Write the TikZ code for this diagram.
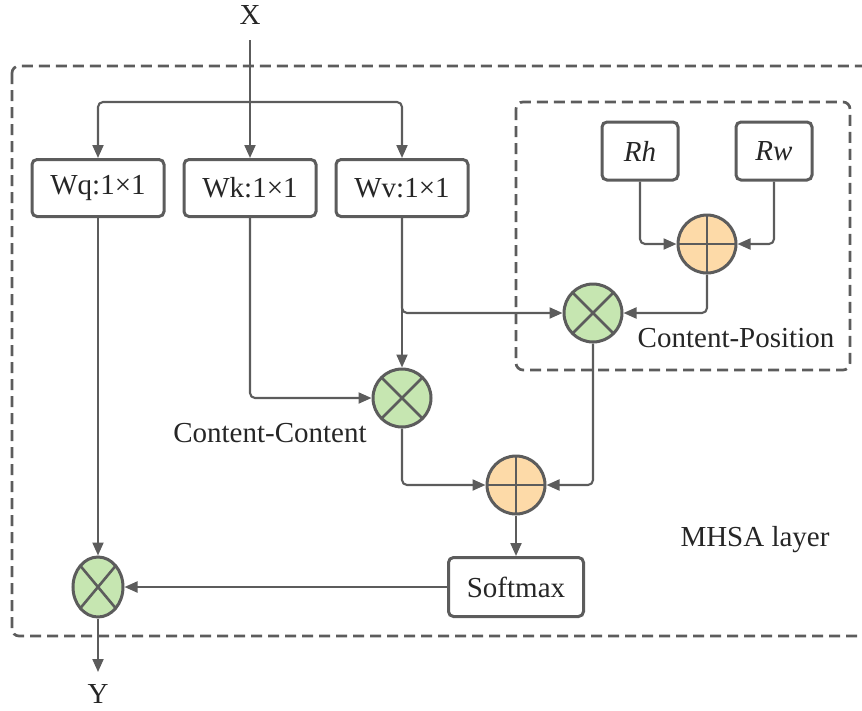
\documentclass[tikz,border=0pt]{standalone}
\usepackage{fontspec}
\setmainfont{Liberation Serif}
\usetikzlibrary{arrows.meta,shapes.geometric}
\definecolor{ln}{HTML}{5C5C5C}
\definecolor{gfill}{HTML}{C6E6B1}
\definecolor{ofill}{HTML}{FDDAA8}
\tikzset{
  box/.style={draw=ln, line width=3pt, rounded corners=5pt, fill=white, minimum width=132pt, minimum height=57pt, inner sep=0pt, font=\fontsize{29}{34}\selectfont, text=black!85},
  rbox/.style={box, minimum width=76pt, minimum height=58pt},
  arr/.style={draw=ln, line width=2.1pt, rounded corners=5pt, -{Triangle[length=13pt,width=11pt]}},
  times/.style={circle, draw=ln, line width=3pt, fill=gfill, minimum size=58pt, inner sep=0pt,
    path picture={\draw[ln, line width=2.6pt] (path picture bounding box.north west) -- (path picture bounding box.south east)
      (path picture bounding box.north east) -- (path picture bounding box.south west);}},
  plus/.style={circle, draw=ln, line width=3pt, fill=ofill, minimum size=58pt, inner sep=0pt,
    path picture={\draw[ln, line width=2.6pt] (path picture bounding box.north) -- (path picture bounding box.south)
      (path picture bounding box.east) -- (path picture bounding box.west);}},
  lbl/.style={font=\fontsize{29}{34}\selectfont, text=black!85, inner sep=0pt},
  dbox/.style={draw=ln, line width=2.7pt, dash pattern=on 11pt off 6pt, rounded corners=7pt}
}
\begin{document}
\begin{tikzpicture}[x=1pt,y=-1pt]
\useasboundingbox (0,0) rectangle (862,710);
% outer and inner dashed frames
\draw[dbox] (12,66) rectangle (880,636);
\draw[dbox] (516,102) rectangle (850,370);
% nodes
\node[lbl] (X) at (250,15) {X};
\coordinate (xs) at (250,40);
\coordinate (j) at (250,102);
\node[box] (Wq) at (98,188) {Wq:1×1};
\node[box] (Wk) at (250,188) {Wk:1×1};
\node[box] (Wv) at (402,188) {Wv:1×1};
\node[rbox] (Rh) at (640,151) {\itshape Rh};
\node[rbox] (Rw) at (774,151) {\itshape Rw};
\node[plus] (pp) at (707,244) {};
\node[times] (cp) at (593,313) {};
\node[times] (cc) at (402,398) {};
\node[plus] (sum) at (516,485) {};
\node[box, minimum width=135pt, minimum height=59pt] (sm) at (516,587) {Softmax};
\node[ellipse, draw=ln, line width=3pt, fill=gfill, minimum width=50pt, minimum height=60pt, inner sep=0pt,
  path picture={\draw[ln, line width=2.6pt] (path picture bounding box.north west) -- (path picture bounding box.south east)
      (path picture bounding box.north east) -- (path picture bounding box.south west);}] (out) at (98,587) {};
\coordinate (ye) at (98,672);
\node[lbl] (Y) at (98,694) {Y};
\node[lbl] (cclbl) at (270,433) {Content-Content};
\node[lbl] (cplbl) at (736,338) {Content-Position};
\node[lbl] (mhsa) at (755,540) {MHSA layer};
% connectors
\draw[arr] (xs) -- (Wk.north);
\draw[arr] (j) -| (Wq.north);
\draw[arr] (j) -| (Wv.north);
\draw[arr] (Rh.south) |- (pp.west);
\draw[arr] (Rw.south) |- (pp.east);
\draw[arr] (pp.south) |- (cp.east);
\draw[arr] (Wv.south) |- (cp.west);
\draw[arr] (Wv.south) -- (cc.north);
\draw[arr] (Wk.south) |- (cc.west);
\draw[arr] (cc.south) |- (sum.west);
\draw[arr] (cp.south) |- (sum.east);
\draw[arr] (sum.south) -- (sm.north);
\draw[arr] (sm.west) -- (out.east);
\draw[arr] (Wq.south) -- (out.north);
\draw[arr] (out.south) -- (ye);
\end{tikzpicture}
\end{document}
